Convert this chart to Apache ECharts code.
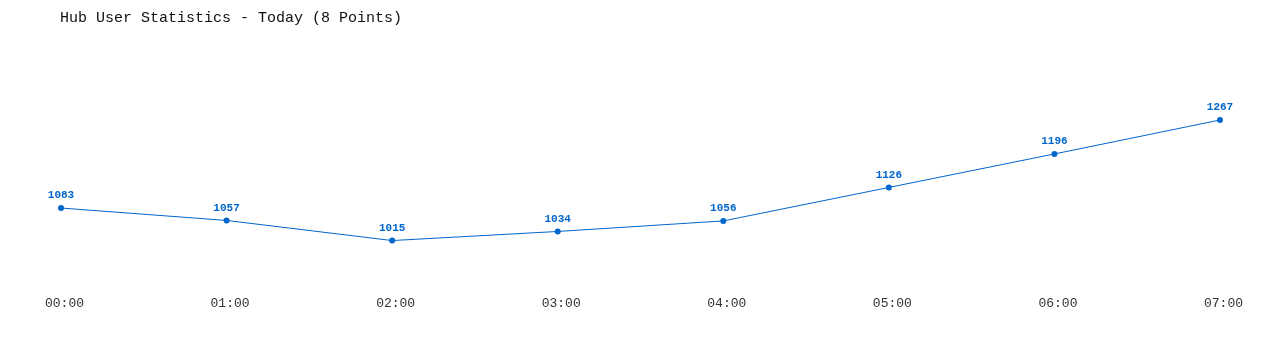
<!DOCTYPE html>
<html>
<head>
<meta charset="utf-8">
<script src="https://cdn.jsdelivr.net/npm/echarts@6/dist/echarts.min.js"></script>
<style>html,body{margin:0;padding:0;background:#fff}#c{width:1280px;height:350px}</style>
</head>
<body>
<div id="c"></div>
<script>
const titleText = 'Hub User Statistics - Today (8 Points)';
const hours = ['00:00','01:00','02:00','03:00','04:00','05:00','06:00','07:00'];
const users = [1083, 1057, 1015, 1034, 1056, 1126, 1196, 1267];

const chart = echarts.init(document.getElementById('c'), null, {renderer: 'canvas'});
chart.setOption({
  animation: false,
  backgroundColor: '#ffffff',
  title: {
    text: titleText,
    left: 55,
    top: 6,
    textStyle: {fontFamily: 'Liberation Mono, DejaVu Sans Mono, monospace', fontSize: 15, fontWeight: 'normal', color: '#111111'}
  },
  grid: {left: 61, right: 60, top: 75.5, bottom: 64},
  xAxis: {
    type: 'category',
    data: hours,
    boundaryGap: false,
    axisLine: {show: false},
    axisTick: {show: false},
    splitLine: {show: false},
    axisLabel: {
      margin: 11,
      padding: [0, 0, 0, 7],
      fontFamily: 'Liberation Mono, DejaVu Sans Mono, monospace',
      fontSize: 13,
      color: '#333333'
    }
  },
  yAxis: {
    type: 'value',
    min: 920,
    max: 1360,
    show: false
  },
  series: [{
    type: 'line',
    data: users,
    symbol: 'circle',
    symbolSize: 6,
    itemStyle: {color: '#0066cc'},
    lineStyle: {color: '#0066cc', width: 1},
    label: {
      show: true,
      position: 'top',
      distance: 4,
      fontFamily: 'Liberation Mono, DejaVu Sans Mono, monospace',
      fontSize: 11,
      fontWeight: 'bold',
      color: '#0066cc'
    }
  }]
});
</script>
</body>
</html>
